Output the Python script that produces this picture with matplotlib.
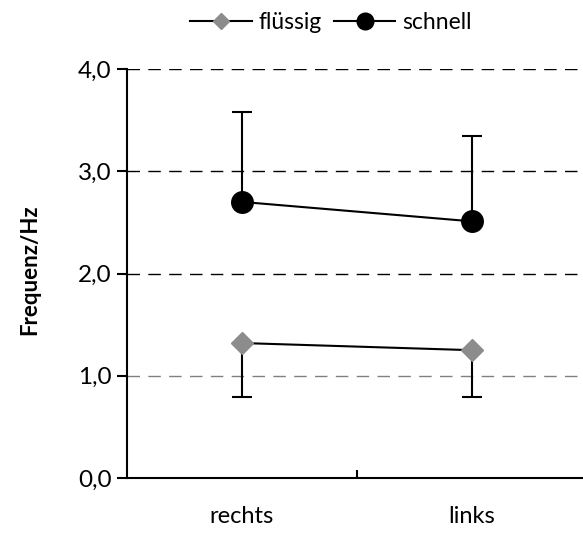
import matplotlib
matplotlib.use("Agg")
import matplotlib.pyplot as plt
from matplotlib.lines import Line2D

categories = ["rechts", "links"]
fluessig = [1.32, 1.25]
fluessig_err_low = [0.53, 0.46]
schnell = [2.70, 2.51]
schnell_err_high = [0.88, 0.83]
yticks = [0.0, 1.0, 2.0, 3.0, 4.0]
ytick_labels = ["0,0", "1,0", "2,0", "3,0", "4,0"]

plt.rcParams['font.family'] = ['Lato', 'DejaVu Sans']

fig = plt.figure(figsize=(5.83, 5.34), dpi=100)
ax = fig.add_axes([127/583, 56/534, 460/583, 409/534])

x = list(range(len(categories)))

ax.errorbar(x, fluessig, yerr=[fluessig_err_low, [0]*len(x)], fmt='none',
            ecolor='black', elinewidth=1.5, capsize=7, capthick=1.5, zorder=3)
ax.errorbar(x, schnell, yerr=[[0]*len(x), schnell_err_high], fmt='none',
            ecolor='black', elinewidth=1.5, capsize=7, capthick=1.5, zorder=3)
ax.plot(x, fluessig, color='black', lw=1.5, marker='D', markersize=11.5,
        markerfacecolor='#8c8c8c', markeredgecolor='#8c8c8c', zorder=4, label='flüssig')
ax.plot(x, schnell, color='black', lw=1.5, marker='o', markersize=15.5,
        markerfacecolor='black', markeredgecolor='black', zorder=4, label='schnell')

ax.set_xlim(-0.5, 1.5)
ax.set_ylim(0, 4)
ax.set_yticks(yticks)
ax.set_yticklabels(ytick_labels, fontsize=17.5)
ax.set_xticks([0.5])
ax.set_xticklabels([""])
ax.tick_params(axis='x', direction='in', length=6, width=1.5, color='black')
ax.tick_params(axis='y', direction='out', length=7, width=1.5, pad=4)
for xi, c in zip(x, categories):
    ax.text(xi, -0.38, c, ha='center', va='center', fontsize=17, transform=ax.transData)

for yv in yticks[1:]:
    col = '#808080' if yv == 1.0 else 'black'
    ax.axhline(yv, color=col, lw=1.0, ls=(0, (9, 6)), zorder=1)

for s in ['top', 'right']:
    ax.spines[s].set_visible(False)
ax.spines['left'].set_linewidth(1.5)
ax.spines['bottom'].set_linewidth(1.5)

fig.text(30/583, 1 - 270/534, "Frequenz/Hz", rotation=90, ha='center', va='center',
         fontsize=16, fontweight='bold')

handles = [
    Line2D([], [], color='black', lw=1.5, marker='D', markersize=8,
           markerfacecolor='#8c8c8c', markeredgecolor='#8c8c8c'),
    Line2D([], [], color='black', lw=1.5, marker='o', markersize=12,
           markerfacecolor='black', markeredgecolor='black'),
]
fig.legend(handles, ['flüssig', 'schnell'], loc='center', bbox_to_anchor=(331/583, 1 - 23/534),
           ncol=2, frameon=False, fontsize=16.5, handlelength=2.7, handletextpad=0.3,
           columnspacing=0.5)

fig.savefig("out.png", dpi=100)
